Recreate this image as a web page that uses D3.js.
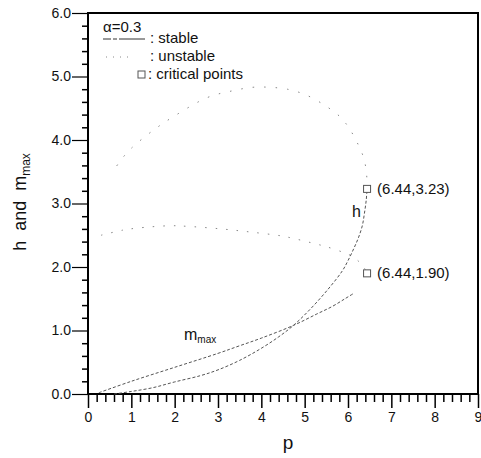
<!DOCTYPE html>
<html lang="en">
<head>
    <meta charset="UTF-8">
    <title>h and m_max vs p</title>
    <script src="https://d3js.org/d3.v7.min.js"></script>
    <style>
        body { margin: 0; background: #fff; }
        text { font-family: Arial, "Liberation Sans", sans-serif; fill: #111; }
    </style>
</head>
<body>
    <div id="chart"></div>
    <script>
        // curve data, [p, value]
        var hStable = [[0.6, 0.0], [1.0, 0.04], [1.5, 0.1], [2.0, 0.19], [2.6, 0.29], [3.0, 0.38],
                       [3.5, 0.53], [4.0, 0.72], [4.4, 0.9], [4.74, 1.08], [5.12, 1.33], [5.54, 1.65],
                       [5.87, 1.94], [6.0, 2.1], [6.14, 2.3], [6.24, 2.46], [6.33, 2.65], [6.38, 2.85],
                       [6.42, 3.05], [6.44, 3.23]];
        var hUnstable = [[6.44, 3.23], [6.43, 3.45], [6.37, 3.7], [6.24, 3.92], [6.05, 4.16],
                         [5.84, 4.35], [5.5, 4.53], [5.03, 4.71], [4.6, 4.8], [4.2, 4.83],
                         [3.8, 4.83], [3.3, 4.77], [2.76, 4.67], [2.0, 4.38], [1.5, 4.15],
                         [1.0, 3.87], [0.8, 3.72], [0.62, 3.55]];
        var mmaxStable = [[0.25, 0.02], [1.0, 0.2], [2.0, 0.42], [3.0, 0.64], [3.5, 0.76],
                          [4.0, 0.88], [4.74, 1.08], [5.28, 1.26], [5.64, 1.38], [5.93, 1.5], [6.12, 1.58]];
        var mmaxUnstable = [[0.3, 2.5], [0.8, 2.58], [1.1, 2.61], [1.9, 2.65], [2.3, 2.64],
                            [3.07, 2.6], [3.76, 2.55], [4.46, 2.49], [4.74, 2.45], [5.28, 2.36],
                            [5.5, 2.32], [5.89, 2.23], [6.09, 2.17], [6.26, 2.08], [6.38, 1.98], [6.44, 1.9]];
        var criticalPoints = [[6.44, 3.23], [6.44, 1.90]];
        var criticalLabels = ["(6.44,3.23)", "(6.44,1.90)"];
        var xTicks = [0, 1, 2, 3, 4, 5, 6, 7, 8, 9];
        var yTicks = [0, 1, 2, 3, 4, 5, 6];

        var W = 481, H = 458;
        var svg = d3.select("#chart").append("svg").attr("width", W).attr("height", H);

        var x = d3.scaleLinear().domain([0, 9]).range([88, 478]);
        var y = d3.scaleLinear().domain([0, 6]).range([394, 13]);

        // minor ticks every 0.2
        var xMinor = d3.range(0, 9.001, 0.2).filter(function(d) { return Math.abs(d - Math.round(d)) > 0.01; });
        var yMinor = d3.range(0, 6.001, 0.2).filter(function(d) { return Math.abs(d - Math.round(d)) > 0.01; });

        svg.append("g").attr("transform", "translate(0,394)")
           .call(d3.axisBottom(x).tickValues(xMinor).tickSize(8).tickFormat(""))
           .call(function(g) { g.select(".domain").remove(); g.selectAll("line").attr("stroke-width", 1.5); });
        svg.append("g").attr("transform", "translate(0,394)")
           .call(d3.axisBottom(x).tickValues(xTicks).tickSize(14).tickPadding(4).tickFormat(d3.format("d")))
           .call(function(g) {
               g.select(".domain").remove();
               g.selectAll("line").attr("stroke-width", 1.5);
               g.selectAll("text").attr("font-size", 14).attr("fill", "#111");
           });

        svg.append("g").attr("transform", "translate(88,0)")
           .call(d3.axisLeft(y).tickValues(yMinor).tickSize(6).tickFormat(""))
           .call(function(g) { g.select(".domain").remove(); g.selectAll("line").attr("stroke-width", 1.5); });
        svg.append("g").attr("transform", "translate(88,0)")
           .call(d3.axisLeft(y).tickValues(yTicks).tickSize(16).tickPadding(1).tickFormat(d3.format(".1f")))
           .call(function(g) {
               g.select(".domain").remove();
               g.selectAll("line").attr("stroke-width", 1.2);
               g.selectAll("text").attr("font-size", 14).attr("fill", "#111");
           });

        // frame
        svg.append("rect").attr("x", x(0)).attr("y", y(6))
           .attr("width", x(9) - x(0)).attr("height", y(0) - y(6))
           .attr("fill", "none").attr("stroke", "#000").attr("stroke-width", 2);

        var line = d3.line().x(function(d) { return x(d[0]); }).y(function(d) { return y(d[1]); })
                     .curve(d3.curveCatmullRom);

        function curve(data, dash, color) {
            svg.append("path").datum(data).attr("d", line)
               .attr("fill", "none").attr("stroke", color)
               .attr("stroke-width", 1).attr("stroke-dasharray", dash);
        }
        curve(hStable, "3,2", "#555");
        curve(mmaxStable, "3,2", "#555");
        curve(hUnstable, "1.5,10", "#888");
        curve(mmaxUnstable, "1.5,9", "#888");

        // critical points
        svg.selectAll(".crit").data(criticalPoints).enter().append("rect")
           .attr("x", function(d) { return x(d[0]) - 3.5; })
           .attr("y", function(d) { return y(d[1]) - 3.5; })
           .attr("width", 7).attr("height", 7)
           .attr("fill", "#fff").attr("stroke", "#555").attr("stroke-width", 1);
        svg.selectAll(".critLabel").data(criticalPoints).enter().append("text")
           .attr("x", function(d) { return x(d[0]) + 10; })
           .attr("y", function(d) { return y(d[1]) + 5; })
           .attr("font-size", 15)
           .text(function(d, i) { return criticalLabels[i]; });

        // curve labels
        svg.append("text").attr("x", 352).attr("y", 217).attr("font-size", 16).text("h");
        var mt = svg.append("text").attr("x", 184).attr("y", 340).attr("font-size", 16);
        mt.append("tspan").text("m");
        mt.append("tspan").attr("font-size", 10).attr("dy", 3).text("max");

        // legend
        svg.append("text").attr("x", 103).attr("y", 32).attr("font-size", 15).text("\u03b1=0.3");
        svg.append("line").attr("x1", 103).attr("x2", 145).attr("y1", 39).attr("y2", 39)
           .attr("stroke", "#333").attr("stroke-width", 1).attr("stroke-dasharray", "8,2,4,2,28");
        svg.append("text").attr("x", 150).attr("y", 43).attr("font-size", 15).text(": stable");
        svg.append("line").attr("x1", 106).attr("x2", 131).attr("y1", 57).attr("y2", 57)
           .attr("stroke", "#888").attr("stroke-width", 1).attr("stroke-dasharray", "1,6");
        svg.append("text").attr("x", 150).attr("y", 61).attr("font-size", 15).text(": unstable");
        svg.append("rect").attr("x", 138).attr("y", 71).attr("width", 7).attr("height", 7)
           .attr("fill", "#fff").attr("stroke", "#555");
        svg.append("text").attr("x", 148).attr("y", 79).attr("font-size", 15).text(": critical points");

        // axis titles
        svg.append("text").attr("x", 288).attr("y", 449).attr("font-size", 19)
           .attr("text-anchor", "middle").text("p");
        var yt = svg.append("text").attr("transform", "translate(26,202) rotate(-90)")
           .attr("font-size", 18).attr("text-anchor", "middle").style("white-space", "pre");
        yt.append("tspan").text("h  and  m");
        yt.append("tspan").attr("font-size", 12).attr("dy", 4).text("max");
    </script>
</body>
</html>
